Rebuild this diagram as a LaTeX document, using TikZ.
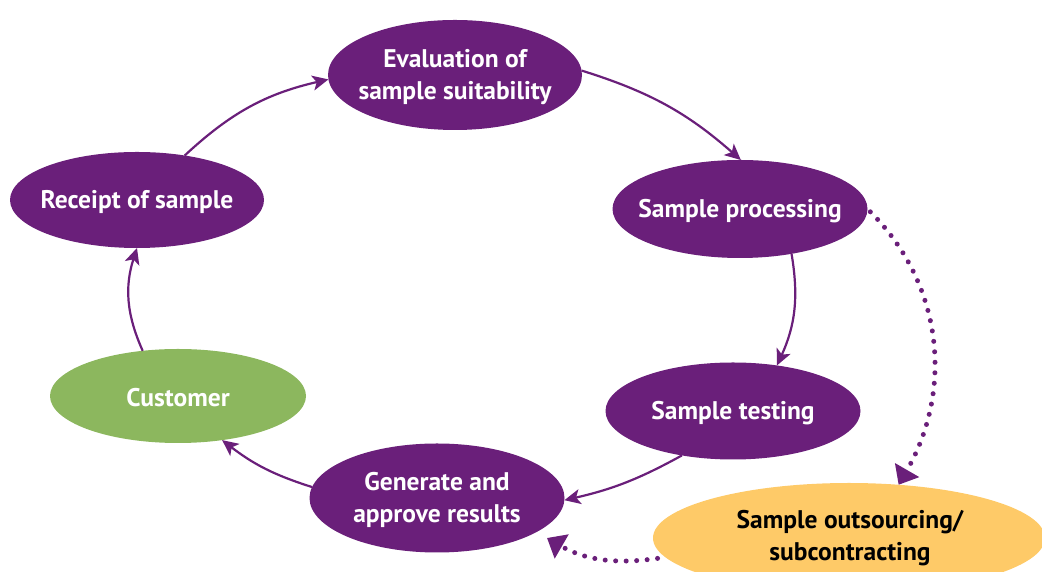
\documentclass[tikz,border=0pt]{standalone}
\usepackage{fontspec}
\setmainfont{PT Sans}
\usetikzlibrary{shapes.geometric,arrows.meta}
\definecolor{pur}{RGB}{106,31,122}
\definecolor{grn}{RGB}{140,183,94}
\definecolor{yel}{RGB}{254,202,104}
\tikzset{
  ell/.style={ellipse, fill=pur, inner sep=0pt, outer sep=0pt},
  lbl/.style={align=center, text=white, font=\fontsize{25.5}{32}\selectfont\bfseries, inner sep=0pt, yshift=-2pt},
  flow/.style={draw=pur, line width=2.2pt, -{Stealth[length=16pt,width=15pt,inset=4pt]}},
  dots/.style={draw=pur, line width=5pt, line cap=round, dash pattern=on 0pt off 10.5pt,
    -{Triangle[length=17pt,width=27pt]}}
}
\begin{document}
\begin{tikzpicture}[x=1pt,y=1pt]
\clip (0,0) rectangle (1042,572);
\node[ell, minimum width=254pt, minimum height=110pt] (eval) at (455,497) {};
\node[ell, minimum width=254pt, minimum height=96pt] (rec) at (137,372) {};
\node[ell, minimum width=255pt, minimum height=98pt] (proc) at (740,363) {};
\node[ell, minimum width=255pt, minimum height=97pt] (test) at (733,161) {};
\node[ell, minimum width=255pt, minimum height=109pt] (gen) at (437,74) {};
\node[ell, fill=grn, minimum width=256pt, minimum height=94pt] (cust) at (178,176) {};
\node[ell, fill=yel, minimum width=392pt, minimum height=110pt] (outs) at (849,34) {};
\node[lbl] (evalT) at (eval) {Evaluation of\\sample suitability};
\node[lbl] (recT) at (rec) {Receipt of sample};
\node[lbl] (procT) at (proc) {Sample processing};
\node[lbl] (testT) at (test) {Sample testing};
\node[lbl] (genT) at (gen) {Generate and\\approve results};
\node[lbl] (custT) at (cust) {Customer};
\node[lbl, text=black] (outsT) at ([xshift=1pt,yshift=2pt]outs) {Sample outsourcing/\\subcontracting};
\coordinate (gin) at (547,34);
\draw[flow] (rec.43) to[bend left=15] (eval.182);
\draw[flow] (eval.2) to[bend left=12] (proc.89);
\draw[flow] (proc.-41) to[bend left=17] (test.46);
\draw[flow] (test.-139) to[bend left=8] (gen.-1);
\draw[flow] (gen.175) to[bend left=10] (cust.-45);
\draw[flow] (cust.128) to[bend left=21] (rec.-90);
\draw[dots, shorten <=4pt] (proc.0) to[out=-45,in=60] (outs.47);
\draw[dots, shorten <=8pt] (outs.186) to[out=188,in=-30] (gin);
\end{tikzpicture}
\end{document}
